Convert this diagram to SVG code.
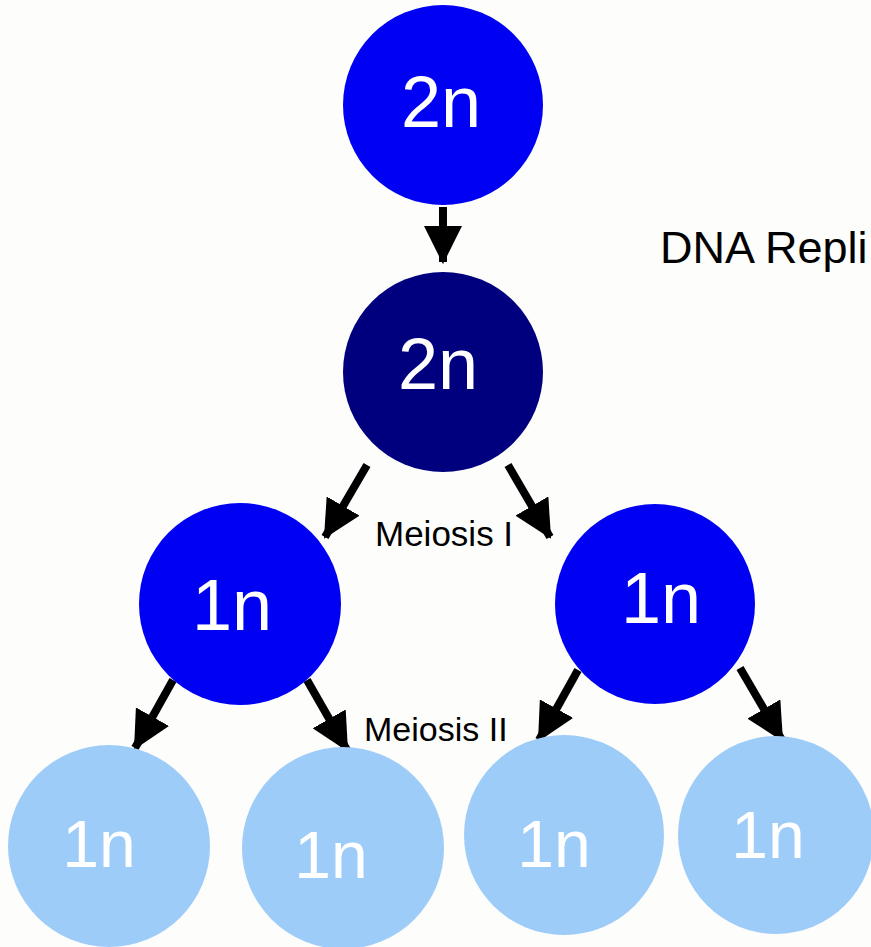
<svg xmlns="http://www.w3.org/2000/svg" width="871" height="947" viewBox="0 0 871 947">
<style>
  .lbl { font-family: "Liberation Sans", Arial, sans-serif; fill: #ffffff; text-anchor: middle; }
  .big { font-size: 72px; }
  .small { font-size: 66px; }
  .cap { font-family: "Liberation Sans", Arial, sans-serif; fill: #000000; font-size: 34px; }
  .blue { fill: #0000F2; }
  .navy { fill: #00007E; }
  .light { fill: #9ECCF9; }
  .arrow { stroke: #000000; stroke-width: 8; fill: none; marker-end: url(#head); }
</style>
<defs>
  <marker id="head" markerUnits="userSpaceOnUse" markerWidth="38" markerHeight="38" viewBox="0 0 36 36" refX="34" refY="18" orient="auto">
    <path d="M0,0 L36,18 L0,36 z" fill="#000000"/>
  </marker>
</defs>
<rect x="0" y="0" width="871" height="947" fill="#FDFDFB"/>

<g id="connectors">
  <line class="arrow" x1="443" y1="207" x2="443" y2="262"/>
  <line class="arrow" x1="367" y1="465" x2="325" y2="537"/>
  <line class="arrow" x1="508" y1="465" x2="550" y2="537"/>
  <line class="arrow" x1="173" y1="680" x2="135" y2="748"/>
  <line class="arrow" x1="307" y1="680" x2="347" y2="750"/>
  <line class="arrow" x1="578" y1="670" x2="539" y2="740"/>
  <line class="arrow" x1="740" y1="668" x2="782" y2="740"/>
</g>

<g id="node-top">
  <circle class="blue" cx="443" cy="105" r="100"/>
  <text class="lbl big" x="441" y="127">2n</text>
</g>
<g id="node-replicated">
  <circle class="navy" cx="443" cy="372" r="100"/>
  <text class="lbl big" x="438" y="389">2n</text>
</g>
<g id="node-mid-left">
  <circle class="blue" cx="240" cy="604" r="101"/>
  <text class="lbl big" x="232" y="630">1n</text>
</g>
<g id="node-mid-right">
  <circle class="blue" cx="655" cy="604" r="100"/>
  <text class="lbl big" x="661" y="623">1n</text>
</g>
<g id="node-bottom-1">
  <circle class="light" cx="109" cy="846" r="101"/>
  <text class="lbl small" x="99" y="867">1n</text>
</g>
<g id="node-bottom-2">
  <circle class="light" cx="343" cy="848" r="101"/>
  <text class="lbl small" x="331" y="878">1n</text>
</g>
<g id="node-bottom-3">
  <circle class="light" cx="564" cy="835" r="100"/>
  <text class="lbl small" x="554" y="867">1n</text>
</g>
<g id="node-bottom-4">
  <ellipse class="light" cx="776" cy="835" rx="98" ry="99"/>
  <text class="lbl small" x="768" y="858">1n</text>
</g>

<g id="labels">
  <text class="cap" x="660" y="263" style="font-size:45px">DNA Repli</text>
  <text class="cap" x="375" y="546" style="font-size:35px">Meiosis I</text>
  <text class="cap" x="364" y="741">Meiosis II</text>
</g>
</svg>
